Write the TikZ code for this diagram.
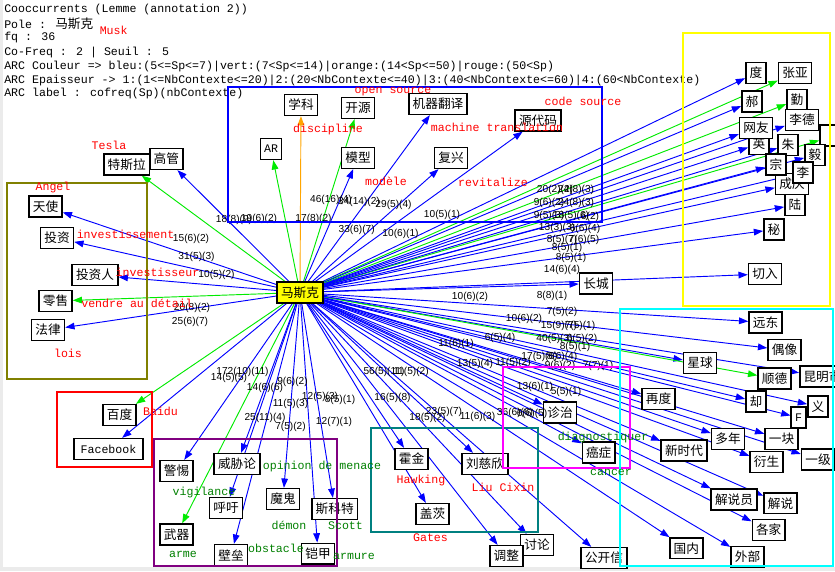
\documentclass[tikz,border=0pt]{standalone}
\usepackage{fontspec}
\setmainfont{Liberation Sans}
\newfontfamily\cjkf{Noto Sans CJK SC}
\newfontfamily\monof{Liberation Mono}
\newfontfamily\arialf{Liberation Sans}
\usetikzlibrary{arrows.meta}
\pgfdeclarelayer{bgfill}
\pgfdeclarelayer{edgelayer}
\pgfsetlayers{bgfill,edgelayer,main}
\definecolor{vert}{RGB}{0,235,0}
\definecolor{orng}{RGB}{255,165,0}
\definecolor{dkgreen}{RGB}{0,128,0}
\definecolor{olv}{RGB}{128,128,0}
\definecolor{prp}{RGB}{128,0,128}
\definecolor{tl}{RGB}{0,128,128}
\definecolor{cyn}{RGB}{0,255,255}
\definecolor{mgt}{RGB}{255,0,255}
\definecolor{ylw}{RGB}{255,255,0}
\definecolor{blu}{RGB}{0,0,255}
\begin{document}
\begin{tikzpicture}[x=0.75pt,y=-0.75pt,
  cb/.style={draw=black, line width=1.2pt, fill=white, minimum height=15.5pt, inner xsep=2.8pt, inner ysep=0pt, font=\cjkf\fontsize{9.5}{10}\selectfont},
  lb/.style={cb, font=\monof\fontsize{8.7}{10}\selectfont},
  hubbox/.style={cb, fill=ylw},
  hdr/.style={anchor=west, inner sep=0pt, font=\monof\fontsize{8.7}{10}\selectfont},
  rl/.style={inner sep=0pt, text=red, font=\monof\fontsize{8.7}{10}\selectfont},
  gl/.style={inner sep=0pt, text=dkgreen, font=\monof\fontsize{8.7}{10}\selectfont},
  elab/.style={inner sep=0pt, font=\arialf\fontsize{7.6}{8}\selectfont},
  tipx/.tip={Triangle[length=7pt,width=5pt]},
  eb/.style={draw=blu, line width=0.7pt, -tipx},
  eg/.style={draw=vert, line width=0.7pt, -tipx},
  eo/.style={draw=orng, line width=0.7pt, -tipx},
  grp/.style={line width=2.2pt}
]
\useasboundingbox (0,0) rectangle (835,571);
\begin{pgfonlayer}{bgfill}
\fill[white] (0,0) rectangle (835,571);
\fill[black!8] (0,0) rectangle (3,571);
\fill[black!8] (0,567) rectangle (835,571);
\end{pgfonlayer}

% header
\node[hdr] (h1) at (4,10) {Cooccurrents (Lemme (annotation 2))};
\node[hdr] (h2) at (4,24) {Pole : {\cjkf\fontsize{9.5}{10}\selectfont 马斯克}};
\node[hdr] (h3) at (4,38) {fq : 36};
\node[hdr] (h4) at (4,52) {Co-Freq : 2 | Seuil : 5};
\node[hdr] (h5) at (4,66) {ARC Couleur => bleu:(5<=Sp<=7)|vert:(7<Sp<=14)|orange:(14<Sp<=50)|rouge:(50<Sp)};
\node[hdr] (h6) at (4,80) {ARC Epaisseur -> 1:(1<=NbContexte<=20)|2:(20<NbContexte<=40)|3:(40<NbContexte<=60)|4:(60<NbContexte)};
\node[hdr] (h7) at (4,94) {ARC label : cofreq(Sp)(nbContexte)};

% hub
\node[hubbox] (hub) at (300,292.5) {马斯克};

% left
\node[cb] (tsl) at (126.7,164.5) {特斯拉};
\node[cb] (gg) at (166.3,159) {高管};
\node[cb] (ts) at (45.5,206.5) {天使};
\node[cb] (tz) at (57,238) {投资};
\node[cb] (tzr) at (95,275) {投资人};
\node[cb] (lsh) at (55.5,301) {零售};
\node[cb] (fl) at (48,330) {法律};
% top
\node[cb] (xk) at (301,105) {学科};
\node[cb] (ky) at (358,108) {开源};
\node[cb] (jq) at (438,104) {机器翻译};
\node[cb] (ydm) at (538,120.5) {源代码};
\node[lb] (ar) at (271,149) {AR};
\node[cb] (mx) at (358,158) {模型};
\node[cb] (fx) at (451,158) {复兴};
% right top
\node[cb] (du) at (756,73) {度};
\node[cb] (zy) at (795,73) {张亚};
\node[cb] (hao) at (752,101.5) {郝};
\node[cb] (qin) at (797,100) {勤};
\node[cb, minimum width=24pt] (cut) at (836,135.5) {};
\node[cb] (lide) at (802,120) {李德};
\node[cb] (ying) at (759,144) {英};
\node[cb] (wy) at (756,128) {网友};
\node[cb] (zhu) at (788,145) {朱};
\node[cb] (yi) at (815,155) {毅};
\node[cb] (cq) at (792,184) {成庆};
\node[cb] (zong) at (776,164.5) {宗};
\node[cb] (li) at (803,172.5) {李};
\node[cb] (lu) at (795,205) {陆};
\node[cb] (mi) at (774,229.5) {秘};
\node[cb] (qr) at (765,274) {切入};
\node[cb] (cc) at (596,283.5) {长城};
% right bottom
\node[cb] (yd) at (765.5,322.5) {远东};
\node[cb] (ox) at (784.5,350) {偶像};
\node[cb] (xq) at (700,363) {星球};
\node[cb] (sd) at (774.5,378.5) {顺德};
\node[cb] (km) at (822.5,376.5) {昆明市};
\node[cb] (zd) at (658.5,399) {再度};
\node[cb] (que) at (756,401.5) {却};
\node[cb] (yiy) at (818,406.5) {义};
\node[lb] (ff) at (798.5,417.5) {F};
\node[cb] (dn) at (728,439) {多年};
\node[cb] (yk) at (781.5,439) {一块};
\node[cb] (xsd) at (684,450.5) {新时代};
\node[cb] (ys) at (766.5,462) {衍生};
\node[cb] (yj) at (818,459.5) {一级};
\node[cb] (jsy) at (734,499.5) {解说员};
\node[cb] (js) at (780.5,503.3) {解说};
\node[cb] (gj) at (768.7,530) {各家};
\node[cb] (gn) at (686.3,548.3) {国内};
\node[cb] (wb) at (747.5,557) {外部};
% center bottom
\node[cb] (zz) at (560,412.5) {诊治};
\node[cb] (az) at (598.7,452.5) {癌症};
\node[cb] (hj) at (411.5,459) {霍金};
\node[cb] (lcx) at (485,464) {刘慈欣};
\node[cb] (gc) at (432.5,514) {盖茨};
\node[cb] (tl) at (537,545) {讨论};
\node[cb] (tzh) at (506.3,556) {调整};
\node[cb] (gkx) at (604,558) {公开信};
% bottom left
\node[cb] (bd) at (119.5,415) {百度};
\node[lb, minimum width=52pt] (fb) at (108.5,449) {Facebook};
\node[cb] (jt) at (176.5,471) {警惕};
\node[cb] (wxl) at (237,464) {威胁论};
\node[cb] (hy) at (226,508) {呼吁};
\node[cb] (mg) at (283,499) {魔鬼};
\node[cb] (skt) at (334.7,509) {斯科特};
\node[cb] (wq) at (176.5,534.5) {武器};
\node[cb] (bl) at (231,555) {壁垒};
\node[cb] (kj) at (318,553.7) {铠甲};

% edges
\begin{pgfonlayer}{edgelayer}
\draw[eg] (hub) -- (tsl);
\draw[eb] (hub) -- (gg);
\draw[eb] (hub) -- (ts);
\draw[eb] (hub) -- (tz);
\draw[eb] (hub) -- (tzr);
\draw[eg] (hub) -- (lsh);
\draw[eb] (hub) -- (fl);
\draw[eo] (hub) -- (xk);
\draw[eg] (hub) -- (ky);
\draw[eb] (hub) -- (jq);
\draw[eb] (hub) -- (ydm);
\draw[eg] (hub) -- (ar);
\draw[eb] (hub) -- (mx);
\draw[eb] (hub) -- (fx);
\draw[eb] (hub) -- (du);
\draw[eg] (hub) -- (zy);
\draw[eb] (hub) -- (hao);
\draw[eg] (hub) -- (qin);
\draw[eg] (hub) -- (cut);
\draw[eb] (hub) -- (lide);
\draw[eb] (hub) -- (ying);
\draw[eb] (hub) -- (wy);
\draw[eb] (hub) -- (zhu);
\draw[eb] (hub) -- (yi);
\draw[eb] (hub) -- (cq);
\draw[eb] (hub) -- (zong);
\draw[eb] (hub) -- (li);
\draw[eb] (hub) -- (lu);
\draw[eb] (hub) -- (mi);
\draw[eb] (hub) -- (qr);
\draw[eb] (hub) -- (cc);
\draw[eb] (hub) -- (yd);
\draw[eb] (hub) -- (ox);
\draw[eb] (hub) -- (xq);
\draw[eg] (hub) -- (sd);
\draw[eb] (hub) -- (km);
\draw[eb] (hub) -- (zd);
\draw[eb] (hub) -- (que);
\draw[eb] (hub) -- (yiy);
\draw[eb] (hub) -- (ff);
\draw[eb] (hub) -- (dn);
\draw[eb] (hub) -- (yk);
\draw[eb] (hub) -- (xsd);
\draw[eb] (hub) -- (ys);
\draw[eb] (hub) -- (yj);
\draw[eb] (hub) -- (jsy);
\draw[eb] (hub) -- (js);
\draw[eb] (hub) -- (gj);
\draw[eb] (hub) -- (gn);
\draw[eb] (hub) -- (wb);
\draw[eb] (hub) -- (zz);
\draw[eb] (hub) -- (az);
\draw[eb] (hub) -- (hj);
\draw[eb] (hub) -- (lcx);
\draw[eb] (hub) -- (gc);
\draw[eb] (hub) -- (tl);
\draw[eb] (hub) -- (tzh);
\draw[eb] (hub) -- (gkx);
\draw[eg] (hub) -- (bd);
\draw[eb] (hub) -- (fb);
\draw[eb] (hub) -- (jt);
\draw[eb] (hub) -- (wxl);
\draw[eb] (hub) -- (hy);
\draw[eb] (hub) -- (mg);
\draw[eb] (hub) -- (skt);
\draw[eg] (hub) -- (wq);
\draw[eb] (hub) -- (bl);
\draw[eb] (hub) -- (kj);
\end{pgfonlayer}

% edge labels
\node[elab] (l1) at (234,220) {18(8)(9)};
\node[elab] (l2) at (259,219) {19(6)(2)};
\node[elab] (l3) at (191,238.5) {15(6)(2)};
\node[elab] (l4) at (196.5,256.5) {31(5)(3)};
\node[elab] (l5) at (216.5,275) {10(5)(2)};
\node[elab] (l6) at (192,308) {20(8)(2)};
\node[elab] (l7) at (190,321.5) {25(6)(7)};
\node[elab] (l8) at (331,200) {46(16)(4)};
\node[elab] (l9) at (359,202) {34(14)(2)};
\node[elab] (l10) at (393.5,205) {29(5)(4)};
\node[elab] (l11) at (313.5,218.5) {17(8)(2)};
\node[elab] (l12) at (356.7,230) {33(6)(7)};
\node[elab] (l13) at (400.5,233.5) {10(6)(1)};
\node[elab] (l14) at (442,215) {10(5)(1)};
\node[elab] (l15) at (555,190) {20(2)(2)};
\node[elab] (l16) at (576,190) {24(8)(3)};
\node[elab] (l17) at (549,203) {9(6)(2)};
\node[elab] (l18) at (576,203) {24(8)(3)};
\node[elab] (l19) at (549,216) {9(5)(3)};
\node[elab] (l20) at (571,216) {18(5)(6)};
\node[elab] (l21) at (590,217) {6(2)};
\node[elab] (l22) at (557,228) {13(3)(3)};
\node[elab] (l23) at (585,229) {6(6)(4)};
\node[elab] (l24) at (562,240) {8(5)(7)};
\node[elab] (l25) at (584,240) {7(6)(5)};
\node[elab] (l26) at (567,248) {8(5)(1)};
\node[elab] (l27) at (571,258) {8(5)(1)};
\node[elab] (l28) at (562,270) {14(6)(4)};
\node[elab] (l29) at (552,296) {8(8)(1)};
\node[elab] (l30) at (470,297) {10(6)(2)};
\node[elab] (l31) at (562,312) {7(5)(2)};
\node[elab] (l32) at (524,318.5) {10(6)(2)};
\node[elab] (l33) at (559,326) {15(9)(7)};
\node[elab] (l34) at (580,326) {7(5)(1)};
\node[elab] (l35) at (500,338) {6(5)(4)};
\node[elab] (l36) at (554.5,339) {40(5)(3)};
\node[elab] (l37) at (582,339) {6(5)(2)};
\node[elab] (l38) at (575,347) {8(5)(1)};
\node[elab] (l39) at (456,344) {11(6)(1)};
\node[elab] (l40) at (539.5,357) {17(5)(6)};
\node[elab] (l41) at (562,357) {8(6)(4)};
\node[elab] (l42) at (475,364) {13(5)(4)};
\node[elab] (l43) at (513,363) {11(5)(2)};
\node[elab] (l44) at (560,366) {9(6)(2)};
\node[elab] (l45) at (598,366) {7(7)(1)};
\node[elab] (l46) at (384,371.5) {56(5)(11)};
\node[elab] (l47) at (411,371.5) {11(5)(2)};
\node[elab] (l48) at (392.5,398) {16(5)(8)};
\node[elab] (l49) at (444,412) {23(5)(7)};
\node[elab] (l50) at (427.5,418) {18(5)(2)};
\node[elab] (l51) at (477.5,417) {11(6)(3)};
\node[elab] (l52) at (515,412.5) {36(6)(6)};
\node[elab] (l53) at (532,414) {6(6)(5)};
\node[elab] (l54) at (535,386.5) {13(6)(1)};
\node[elab] (l55) at (566,392) {5(5)(1)};
\node[elab] (l56) at (242.5,372) {172(10)(11)};
\node[elab] (l57) at (229,378) {14(5)(5)};
\node[elab] (l58) at (265,388) {14(6)(6)};
\node[elab] (l59) at (292.5,381.7) {9(6)(2)};
\node[elab] (l60) at (290.5,404) {11(5)(3)};
\node[elab] (l61) at (320,397) {12(5)(3)};
\node[elab] (l62) at (340,400) {8(5)(1)};
\node[elab] (l63) at (265,418) {25(11)(4)};
\node[elab] (l64) at (290.5,426.7) {7(5)(2)};
\node[elab] (l65) at (334,422) {12(7)(1)};

% group rectangles
\draw[grp, draw=olv] (7,183) rectangle (147,379);
\draw[grp, draw=blu] (228,87) rectangle (602,222);
\draw[grp, draw=ylw] (683,33) rectangle (830,306);
\draw[grp, draw=red] (57,392) rectangle (152,467);
\draw[grp, draw=prp] (154,439) rectangle (337,566);
\draw[grp, draw=tl] (371,428) rectangle (538,532);
\draw[grp, draw=mgt] (503,367) rectangle (630,468);
\draw[grp, draw=cyn] (620,309) rectangle (833,566);

% annotations
\node[rl] (a1) at (113.7,30) {Musk};
\node[rl] (a2) at (109,145) {Tesla};
\node[rl] (a3) at (53,187) {Angel};
\node[rl] (a4) at (125.5,234) {investissement};
\node[rl] (a5) at (157.5,272.5) {investisseur};
\node[rl] (a6) at (137,303) {vendre au détail};
\node[rl] (a7) at (68,353) {lois};
\node[rl] (a8) at (393,92) {open source};
\node[rl] (a9) at (328,129.5) {discipline};
\node[rl] (a10) at (583,101) {code source};
\node[rl] (a11) at (497,127) {machine translation};
\node[rl] (a12) at (386,181) {modèle};
\node[rl] (a13) at (493,182.5) {revitalize};
\node[rl] (a14) at (160.5,411) {Baidu};
\node[rl] (a15) at (421,480.5) {Hawking};
\node[rl] (a16) at (503,487) {Liu Cixin};
\node[rl] (a17) at (430.5,538) {Gates};
\node[gl] (g1) at (204,492) {vigilance};
\node[gl] (g2) at (322,466) {opinion de menace};
\node[gl] (g3) at (289,525) {démon};
\node[gl] (g4) at (345.5,525.5) {Scott};
\node[gl] (g5) at (183,554) {arme};
\node[gl] (g6) at (276,548) {obstacle};
\node[gl] (g7) at (354,556.5) {armure};
\node[gl] (g8) at (603,437) {diagnostiquer};
\node[gl] (g9) at (611,472) {cancer};
\end{tikzpicture}
\end{document}
